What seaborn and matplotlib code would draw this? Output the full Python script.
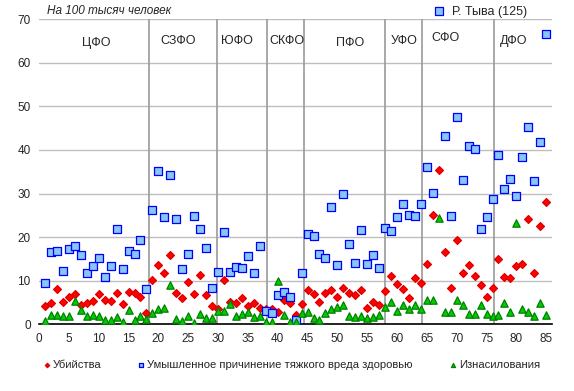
import numpy as np
import pandas as pd
import matplotlib
matplotlib.use("Agg")
import matplotlib.pyplot as plt
import seaborn as sns

# rates per 100k, regions numbered 1..85 in federal-district order
murders = [4.3, 4.9, 8.0, 5.1, 6.2, 6.9, 4.5, 4.8, 5.3, 6.9, 5.6, 5.4, 7.1, 4.6, 7.4, 7.1, 6.2, 2.7,
           10.1, 13.6, 11.8, 15.9, 7.2, 6.0, 9.6, 6.9, 11.2, 6.8, 4.1,
           3.6, 10.1, 5.2, 4.9, 6.0, 4.3, 4.8, 3.7,
           3.4, 3.6, 2.9, 5.6, 4.8, 2.1, 4.7,
           7.9, 6.9, 5.0, 7.2, 7.9, 6.2, 8.4, 7.1, 6.7, 7.9, 3.7, 5.1, 4.4, 7.6,
           11.1, 9.2, 8.0, 6.0, 10.6, 9.4,
           13.8, 25.0, 35.3, 16.5, 8.3, 19.3, 11.7, 13.5, 11.1, 9.0, 6.2, 8.3,
           14.9, 10.8, 10.6, 13.4, 13.8, 24.2, 11.7, 22.5, 28.0]
assault = [9.5, 16.5, 16.8, 12.3, 17.3, 18.0, 15.9, 11.8, 13.3, 15.2, 10.9, 13.3, 21.9, 12.7, 16.8, 16.2, 19.4, 8.1,
           26.2, 35.2, 24.7, 34.3, 24.2, 12.7, 16.2, 24.9, 21.9, 17.5, 8.4,
           12.0, 21.2, 12.0, 13.2, 12.9, 15.6, 11.8, 18.0,
           3.1, 2.5, 6.8, 7.5, 6.3, 1.1, 11.8,
           20.6, 20.3, 16.2, 15.1, 27.0, 13.6, 30.0, 18.5, 14.1, 21.7, 13.9, 15.9, 12.9, 22.2,
           21.5, 24.6, 27.6, 25.1, 24.8, 27.6,
           36.1, 30.2, 125.0, 43.3, 24.8, 47.6, 33.2, 41.0, 40.3, 21.9, 24.7, 28.8,
           38.9, 31.1, 33.4, 29.5, 38.4, 45.3, 32.9, 41.9, 66.5]
rapes = [0.8, 2.1, 2.1, 1.9, 1.9, 5.4, 3.3, 1.9, 2.1, 1.9, 1.0, 1.0, 1.7, 0.6, 3.3, 1.0, 1.9, 1.3,
         2.7, 3.5, 3.7, 9.0, 1.2, 0.8, 1.8, 0.3, 2.4, 1.5, 1.4,
         3.1, 3.1, 4.6, 2.0, 2.3, 2.8, 1.7, 1.8,
         0.6, 0.6, 10.0, 2.1, 0.6, 0.6, 2.5,
         2.8, 1.4, 1.1, 2.5, 3.6, 4.0, 4.4, 1.9, 1.7, 1.8, 1.4, 1.7, 2.2, 4.0,
         5.0, 3.1, 4.4, 3.4, 4.4, 3.4,
         5.6, 5.6, 24.3, 2.8, 2.8, 5.6, 4.4, 2.4, 2.4, 4.4, 2.4, 1.8,
         2.1, 4.8, 2.8, 23.3, 3.4, 2.8, 1.9, 4.8, 2.1]
region_no = list(range(1, 86))

districts = ["ЦФО", "СЗФО", "ЮФО", "СКФО", "ПФО", "УФО", "СФО", "ДФО"]
district_label_x = [9.6, 23.3, 33.1, 41.5, 52.1, 61.1, 68.1, 79.5]
district_label_y = [64.6, 64.9, 64.9, 64.9, 64.6, 64.9, 65.6, 65.0]
district_bounds = [18.45, 29.75, 38.15, 44.47, 57.9, 64.1, 76.2]
tuva_no = 67

labels = ["Убийства", "Умышленное причинение тяжкого вреда здоровью", "Изнасилования"]

df = pd.DataFrame({"region": region_no * 3,
                   "rate": murders + assault + rapes,
                   "kind": [labels[0]] * 85 + [labels[1]] * 85 + [labels[2]] * 85})

sns.set_style("white")
plt.rcParams["font.family"] = ["Liberation Sans", "DejaVu Sans"]

fig = plt.figure(figsize=(5.74, 3.91), dpi=100)
ax = fig.add_axes([0.068, 0.1706, 0.894, 0.7804])

styles = {labels[0]: dict(marker="D", s=16, color="#FF0000", edgecolor="#E00000"),
          labels[1]: dict(marker="s", s=26, color="#87C5F5", edgecolor="#0000FF"),
          labels[2]: dict(marker="^", s=28, color="#00CC00", edgecolor="#008000")}

for name in labels:
    sub = df[df["kind"] == name]
    sns.scatterplot(data=sub, x="region", y="rate", ax=ax, label=name,
                    linewidth=0.9, zorder=3, **styles[name])

ax.set_xlim(0, 86)
ax.set_ylim(0, 70)
ax.set_xticks(np.arange(0, 86, 5))
ax.set_yticks(np.arange(0, 71, 10))
ax.grid(axis="y", color="#BEBEBE", linewidth=1)
ax.set_axisbelow(True)
ax.set_xlabel("")
ax.set_ylabel("")
ax.tick_params(length=0, labelsize=8.5, pad=6)
for side in ["top", "right", "left"]:
    ax.spines[side].set_visible(False)
ax.spines["bottom"].set_color("black")
ax.spines["bottom"].set_linewidth(1.2)

for b in district_bounds:
    ax.axvline(b, color="#9A9A9A", linewidth=1.2, zorder=1)
for name, lx, ly in zip(districts, district_label_x, district_label_y):
    ax.text(lx, ly, name, ha="center", va="center", fontsize=9)

ax.text(0.015, 1.027, "На 100 тысяч человек", transform=ax.transAxes,
        fontsize=8.5, style="italic", va="center")

# Tuva is off the chart, marked above it
ax.scatter([tuva_no], [71.9], marker="s", s=30, color="#87C5F5", edgecolor="#0000FF",
           linewidth=0.9, clip_on=False)
ax.text(tuva_no + 2.2, 71.7, "Р. Тыва (125)", fontsize=9, va="center")

ax.legend(loc="upper center", bbox_to_anchor=(0.491, -0.085), ncol=3, frameon=False,
          fontsize=8.1, markerscale=0.55, handletextpad=0.1, columnspacing=3.2,
          handlelength=0.8)

fig.savefig("out.png", dpi=100)
